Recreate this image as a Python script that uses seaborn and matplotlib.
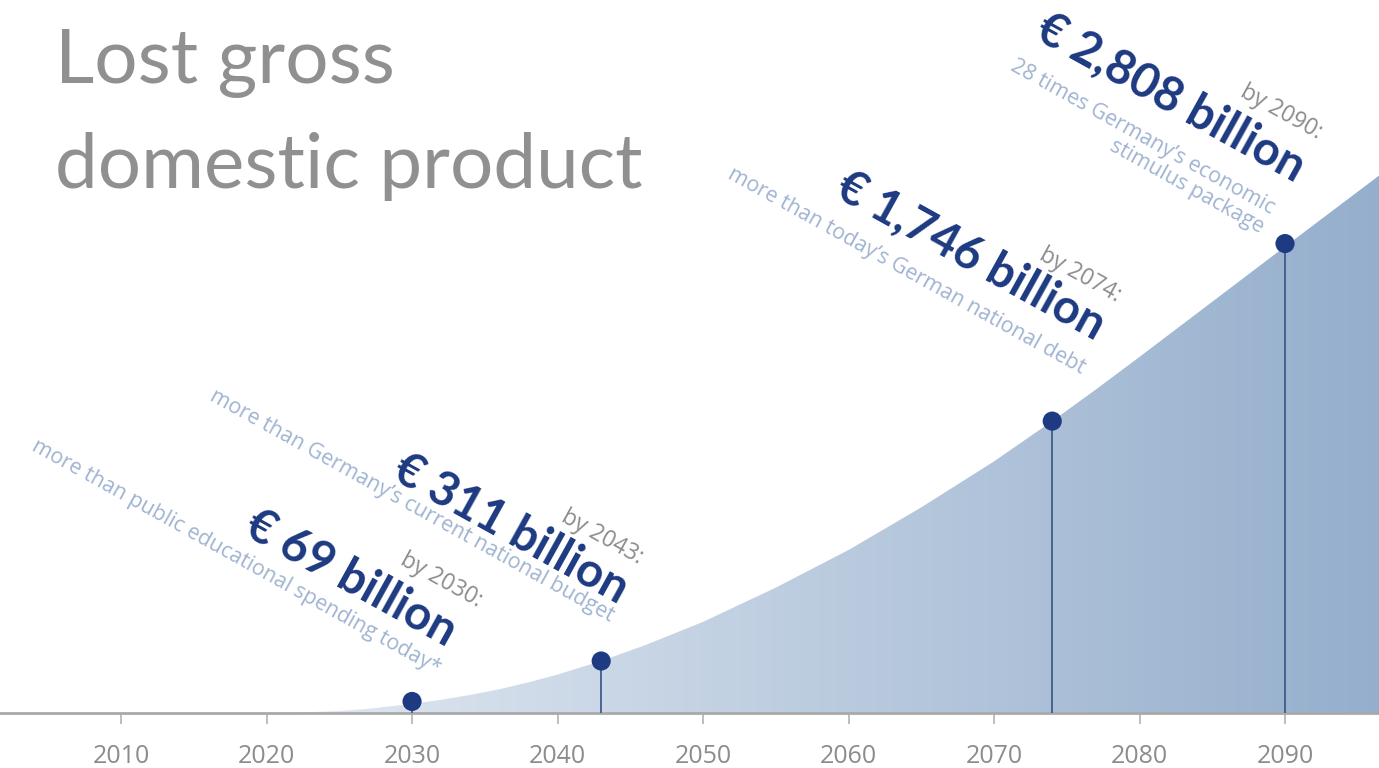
import numpy as np
import pandas as pd
import matplotlib.pyplot as plt
from matplotlib.colors import LinearSegmentedColormap
import seaborn as sns

# cumulative lost GDP in billion euro
curve_years = [2018, 2020, 2022, 2025, 2027, 2030, 2032, 2034, 2036, 2038, 2040,
               2043, 2046, 2050, 2055, 2060, 2065, 2070, 2074, 2077, 2080,
               2085, 2090, 2097]
curve_values = [0, 0, 2, 12, 25, 55, 79, 108, 142, 183, 230,
                311, 405, 545, 750, 975, 1230, 1505, 1746, 1935, 2130,
                2460, 2790, 3250]

# highlighted milestones
mark_years = [2030, 2043, 2074, 2090]
mark_values = [69, 311, 1746, 2808]
mark_labels = ["€ 69 billion", "€ 311 billion", "€ 1,746 billion", "€ 2,808 billion"]
by_labels = ["by 2030:", "by 2043:", "by 2074:", "by 2090:"]
notes = ["more than public educational spending today*",
         "more than Germany’s current national budget",
         "more than today’s German national debt",
         "28 times Germany’s economic\nstimulus package"]

tick_years = [2010, 2020, 2030, 2040, 2050, 2060, 2070, 2080, 2090]

sns.set_theme(style="white")
plt.rcParams['font.family'] = ['Open Sans', 'DejaVu Sans']

NAVY = '#1d3a82'
GREY = '#8c8c8c'
LIGHT = '#a0b4d2'

fig = plt.figure(figsize=(13.79, 7.68), dpi=100)
ax = fig.add_axes([0, 55 / 768, 1, 713 / 768])

# area under the curve with a left-to-right gradient
poly = ax.fill_between(curve_years, 0, curve_values, facecolor='none', edgecolor='none')
grad_cmap = LinearSegmentedColormap.from_list('gdp', ['#e2e9f2', '#94aecc'])
grad = np.linspace(0, 1, 256).reshape(1, -1)
im = ax.imshow(grad, cmap=grad_cmap, aspect='auto', extent=[2020, 2097, 0, 4000],
               origin='lower', zorder=1)
im.set_clip_path(poly.get_paths()[0], transform=ax.transData)
ax.set_xlim(2001.68, 2096.46)
ax.set_ylim(0, 4265)

# stems and dots
ax.vlines(mark_years, 0, mark_values, color='#3f5b88', lw=1.3, zorder=3)
marks = pd.DataFrame({'year': mark_years, 'value': mark_values})
sns.scatterplot(data=marks, x='year', y='value', s=190, color=NAVY,
                edgecolor='none', zorder=4, ax=ax, legend=False)

# rotated annotations, offsets in points from each dot
# (multi-line notes are anchored on their last line)
big_off = [(24.5, 38.9), (12.2, 41.0), (31.0, 58.3), (7.2, 44.6)]
by_off = [(46.8, 67.7), (26.6, 69.8), (46.1, 85.7), (23.0, 74.9)]
note_off = [(17.3, 19.4), (5.8, 28.1), (20.9, 33.8), (-18.0, 7.9)]
ROT = -29
for i in range(len(mark_years)):
    xy = (mark_years[i], mark_values[i])
    ax.annotate(mark_labels[i], xy, xytext=big_off[i], textcoords='offset points',
                rotation=ROT, rotation_mode='anchor', ha='right', va='baseline',
                fontsize=34, fontweight='bold', color=NAVY,
                family=['Lato', 'DejaVu Sans'], zorder=5)
    ax.annotate(by_labels[i], xy, xytext=by_off[i], textcoords='offset points',
                rotation=ROT, rotation_mode='anchor', ha='right', va='baseline',
                fontsize=16.5, color=GREY, zorder=5)
    ax.annotate(notes[i], xy, xytext=note_off[i], textcoords='offset points',
                rotation=ROT, rotation_mode='anchor', ha='right', va='baseline',
                multialignment='right', linespacing=1.05,
                fontsize=15.4, color=LIGHT, zorder=5)

# axis styling
for side in ['left', 'top', 'right']:
    ax.spines[side].set_visible(False)
ax.spines['bottom'].set_color('#a9a9a9')
ax.spines['bottom'].set_linewidth(2)
ax.spines['bottom'].set_zorder(2)
ax.set_yticks([])
ax.set_xticks(tick_years)
ax.set_xticklabels([str(y) for y in tick_years])
ax.tick_params(axis='x', direction='out', length=8, width=1.2, color='#b3b3b3',
               pad=14, labelsize=18, labelcolor=GREY, bottom=True)
ax.set_xlabel('')
ax.set_ylabel('')
ax.grid(False)

# title
fig.text(55 / 1379, 1 - 83 / 768, "Lost gross", fontsize=55, color='#909090',
         family=['Lato', 'DejaVu Sans'], va='baseline', ha='left')
fig.text(55 / 1379, 1 - 188 / 768, "domestic product", fontsize=55, color='#909090',
         family=['Lato', 'DejaVu Sans'], va='baseline', ha='left')

fig.savefig('out.png', dpi=100, facecolor='white')
